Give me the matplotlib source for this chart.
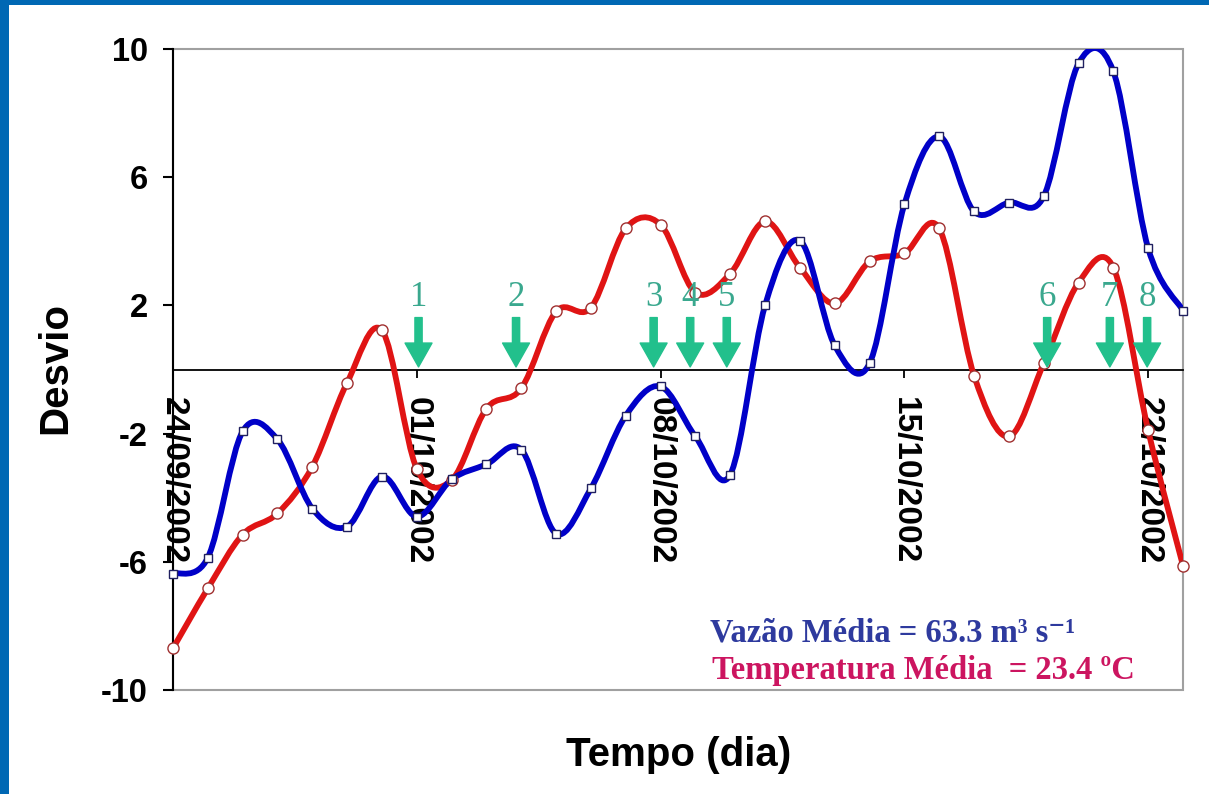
import numpy as np
import matplotlib.pyplot as plt
from matplotlib.path import Path
from matplotlib.patches import PathPatch, Rectangle, FancyArrowPatch

# dias desde 24/09/2002 (um ponto por dia)
dias = np.arange(30)
vazao = [-6.37, -5.87, -1.93, -2.18, -4.34, -4.90, -3.34, -4.59, -3.43, -2.96,
         -2.50, -5.12, -3.71, -1.44, -0.53, -2.09, -3.28, 2.00, 4.02, 0.75,
         0.19, 5.15, 7.27, 4.93, 5.21, 5.40, 9.55, 9.30, 3.78, 1.84]
temperatura = [-8.70, -6.83, -5.15, -4.49, -3.03, -0.41, 1.22, -3.10, -3.45, -1.22,
               -0.59, 1.81, 1.93, 4.40, 4.52, 2.40, 2.99, 4.62, 3.18, 2.06,
               3.37, 3.62, 4.40, -0.19, -2.09, 0.19, 2.71, 3.18, -1.90, -6.12]

tick_dias = [0, 7, 14, 21, 28]
tick_datas = ['24/09/2002', '01/10/2002', '08/10/2002', '15/10/2002', '22/10/2002']
y_ticks = [-10, -6, -2, 2, 6, 10]

eventos = ['1', '2', '3', '4', '5', '6', '7', '8']
evento_dia = [7.05, 9.85, 13.8, 14.85, 15.9, 25.1, 26.9, 27.97]

azul = '#0000C8'
vermelho = '#E01414'
verde = '#22C08C'


def suave(x, y):
    # linha suavizada tipo Excel: catmull-rom convertida em bezier cubica
    pts = np.column_stack([x, y]).astype(float)
    ext = np.vstack([pts[0], pts, pts[-1]])
    verts = [pts[0]]
    codes = [Path.MOVETO]
    for i in range(len(pts) - 1):
        p0, p1, p2, p3 = ext[i], ext[i + 1], ext[i + 2], ext[i + 3]
        verts += [p1 + (p2 - p0) / 6, p2 - (p3 - p1) / 6, p2]
        codes += [Path.CURVE4] * 3
    return Path(verts, codes)


W, H = 1209, 794
fig = plt.figure(figsize=(W / 100, H / 100), dpi=100)
fig.patch.set_facecolor('white')
ax = fig.add_axes([173 / W, 1 - 690 / H, (1183 - 173) / W, (690 - 49) / H])

# moldura azul do slide
fig.add_artist(Rectangle((0, 0), 9 / W, 1, transform=fig.transFigure, color='#0068B4', lw=0))
fig.add_artist(Rectangle((0, 1 - 5 / H), 1, 5 / H, transform=fig.transFigure, color='#0068B4', lw=0))

ax.set_xlim(0, 29)
ax.set_ylim(-10, 10)

ax.patch.set_edgecolor('#A0A0A0')
ax.patch.set_linewidth(1.5)
ax.spines['top'].set_visible(False)
ax.spines['right'].set_visible(False)
ax.spines['left'].set_color('black')
ax.spines['left'].set_linewidth(1.5)
ax.spines['bottom'].set_position(('data', 0))
ax.spines['bottom'].set_linewidth(1.3)

ax.add_patch(PathPatch(suave(dias, temperatura), fill=False, edgecolor=vermelho,
                       lw=4.2, capstyle='round', joinstyle='round', zorder=3))
ax.add_patch(PathPatch(suave(dias, vazao), fill=False, edgecolor=azul,
                       lw=4.2, capstyle='round', joinstyle='round', zorder=4))
ax.plot(dias, temperatura, ls='none', marker='o', ms=8, mfc='white', mec='#A03030',
        mew=1, clip_on=False, zorder=5)
ax.plot(dias, vazao, ls='none', marker='s', ms=6, mfc='white', mec='#202060',
        mew=1, clip_on=False, zorder=6)

# setas dos eventos
for nome, d in zip(eventos, evento_dia):
    seta = FancyArrowPatch((d, 1.62), (d, 0.08),
                           arrowstyle='simple,head_width=0.97,head_length=0.86,tail_width=0.26',
                           mutation_scale=20, color=verde, shrinkA=0, shrinkB=0, zorder=7)
    ax.add_patch(seta)
    ax.text(d, 1.72, nome, ha='center', va='bottom', color='#3AA88E',
            fontsize=25, family='Liberation Serif', zorder=7)

ax.set_xticks(tick_dias)
ax.set_xticklabels(tick_datas, rotation=-90, fontsize=24, fontweight='bold',
                   family='Liberation Sans')
ax.set_yticks(y_ticks)
ax.set_yticklabels([str(v) for v in y_ticks], fontsize=23.5, fontweight='bold',
                   family='Liberation Sans')
ax.tick_params(axis='x', direction='out', length=6, width=1.3, pad=14)
ax.tick_params(axis='y', direction='out', length=7, width=1.5, pad=11)

fig.text(55 / W, 1 - 368 / H, 'Desvio', rotation=90, ha='center', va='center',
         fontsize=29, fontweight='bold', family='Liberation Sans')
fig.text(679 / W, 1 - 755 / H, 'Tempo (dia)', ha='center', va='center',
         fontsize=29, fontweight='bold', family='Liberation Sans')

fig.text(710 / W, 1 - 633 / H, 'Vazão Média = 63.3 m³ s⁻¹', ha='left', va='center',
         color='#2E3A9E', fontsize=23.5, fontweight='bold',
         family=['Liberation Serif', 'DejaVu Serif'])
fig.text(712 / W, 1 - 670 / H, 'Temperatura Média  = 23.4 ºC', ha='left', va='center',
         color='#CC1560', fontsize=23.5, fontweight='bold',
         family=['Liberation Serif', 'DejaVu Serif'])

fig.savefig('out.png', dpi=100)
